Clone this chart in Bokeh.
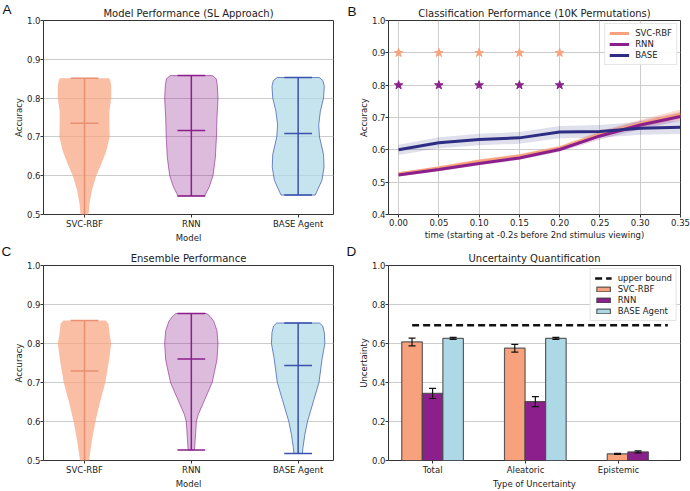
from bokeh.plotting import figure
from bokeh.layouts import gridplot
from bokeh.models import (Range1d, FixedTicker, Label, Legend, LegendItem, Whisker,
                          TeeHead, ColumnDataSource, NumeralTickFormatter)
from bokeh.embed import file_html
from bokeh.resources import INLINE

FONT = "DejaVu Sans"
TXT = "#222222"

# ---------------- data ----------------
models = ["SVC-RBF", "RNN", "BASE Agent"]
model_pos = [0, 1, 2]
acc_ticks = [0.5, 0.6, 0.7, 0.8, 0.9, 1.0]

# Panel A violins (y value, relative half width of density)
svc_a_y = [0.851, 0.845, 0.83, 0.80, 0.765, 0.735, 0.70, 0.664, 0.63, 0.60, 0.563, 0.529, 0.50, 0.47]
svc_a_w = [0.92, 0.97, 1.0, 1.0, 0.93, 0.93, 0.94, 0.82, 0.63, 0.44, 0.28, 0.19, 0.15, 0.10]
rnn_a_y = [0.858, 0.85, 0.835, 0.80, 0.748, 0.70, 0.647, 0.60, 0.571, 0.548]
rnn_a_w = [0.79, 0.93, 0.97, 1.0, 0.96, 0.94, 0.90, 0.81, 0.67, 0.50]
base_a_y = [0.853, 0.845, 0.83, 0.80, 0.765, 0.731, 0.70, 0.655, 0.622, 0.588, 0.55]
base_a_w = [0.79, 0.93, 0.98, 0.95, 0.83, 0.77, 0.80, 0.95, 0.97, 0.89, 0.64]
a_max = [0.851, 0.858, 0.853]
a_mean = [0.735, 0.7166, 0.709]
a_min = [0.47, 0.548, 0.55]

# Panel C violins
svc_c_y = [0.859, 0.85, 0.828, 0.80, 0.762, 0.70, 0.647, 0.60, 0.549, 0.50, 0.47]
svc_c_w = [0.80, 0.90, 0.93, 1.0, 0.93, 0.78, 0.57, 0.41, 0.27, 0.17, 0.12]
rnn_c_y = [0.877, 0.868, 0.857, 0.833, 0.80, 0.758, 0.70, 0.651, 0.618, 0.60, 0.56, 0.527]
rnn_c_w = [0.58, 0.72, 0.84, 0.96, 1.0, 0.96, 0.78, 0.47, 0.26, 0.19, 0.15, 0.12]
base_c_y = [0.8525, 0.845, 0.828, 0.80, 0.762, 0.70, 0.656, 0.60, 0.566, 0.533, 0.518]
base_c_w = [0.80, 0.92, 0.98, 1.0, 0.90, 0.78, 0.59, 0.35, 0.25, 0.18, 0.16]
c_max = [0.859, 0.877, 0.8525]
c_mean = [0.7295, 0.760, 0.7435]
c_min = [0.47, 0.527, 0.518]

# Panel B
times = [0.0, 0.05, 0.10, 0.15, 0.20, 0.25, 0.30, 0.35]
time_ticks = [0.0, 0.05, 0.10, 0.15, 0.20, 0.25, 0.30, 0.35]
b_ticks = [0.4, 0.5, 0.6, 0.7, 0.8, 0.9, 1.0]
svc_b = [0.526, 0.544, 0.565, 0.581, 0.606, 0.648, 0.681, 0.710]
svc_b_err = [0.004, 0.005, 0.006, 0.006, 0.007, 0.010, 0.012, 0.015]
rnn_b = [0.522, 0.539, 0.558, 0.575, 0.601, 0.643, 0.677, 0.703]
rnn_b_err = [0.004, 0.005, 0.006, 0.006, 0.007, 0.011, 0.013, 0.014]
base_b = [0.600, 0.622, 0.632, 0.637, 0.655, 0.657, 0.667, 0.670]
base_b_err = [0.016, 0.017, 0.018, 0.018, 0.019, 0.020, 0.020, 0.021]
star_times = [0.0, 0.05, 0.10, 0.15, 0.20]
svc_star = [0.9, 0.9, 0.9, 0.9, 0.9]
rnn_star = [0.8, 0.8, 0.8, 0.8, 0.8]

# Panel D
unc_types = ["Total", "Aleatoric", "Epistemic"]
unc_tick_pos = [0, 1, 2]
unc_group_pos = [0.0, 1.105, 2.21]
unc_ticks = [0.0, 0.2, 0.4, 0.6, 0.8, 1.0]
svc_d = [0.608, 0.576, 0.034]
svc_d_err = [0.020, 0.020, 0.003]
rnn_d = [0.344, 0.302, 0.044]
rnn_d_err = [0.026, 0.026, 0.005]
base_d = [0.626, 0.626, 0.0]
base_d_err = [0.005, 0.005, 0.0]
upper_bound = 0.693
upper_bound_x = [-0.22, 2.53]

# colours
C_SVC = "#F7A27D"
C_SVC_LINE = "#E88F72"
C_RNN = "#8B1F8B"
C_BASE_FILL = "#ADD8E6"
C_BASE_LINE = "#3A52AD"
C_BASE_B = "#2D2E83"

HALF = 0.25
CAP = 0.13


def make_fig(w, h, bl, br, bt, bb, xr, yr, title):
    p = figure(width=w, height=h, x_range=Range1d(*xr), y_range=Range1d(*yr),
               output_backend="svg", toolbar_location=None,
               min_border_left=bl, min_border_right=br, min_border_top=bt, min_border_bottom=bb)
    p.outline_line_color = "#333333"
    p.outline_line_width = 1
    p.outline_line_alpha = 1
    p.title.text = title
    p.title.text_font = FONT
    p.title.text_font_size = "10px"
    p.title.text_font_style = "normal"
    p.title.text_color = TXT
    p.title.align = "center"
    p.title.standoff = 3
    for ax in (p.xaxis[0], p.yaxis[0]):
        ax.major_label_text_font = FONT
        ax.major_label_text_font_size = "8.5px"
        ax.major_label_text_color = TXT
        ax.axis_label_text_font = FONT
        ax.axis_label_text_font_size = "8.5px"
        ax.axis_label_text_font_style = "normal"
        ax.axis_label_text_color = TXT
        ax.axis_line_color = None
        ax.major_tick_out = 3
        ax.major_tick_in = 0
        ax.minor_tick_out = 0
        ax.minor_tick_in = 0
        ax.major_tick_line_color = "#333333"
        ax.major_label_standoff = 1
        ax.axis_label_standoff = 1
    p.yaxis[0].major_label_standoff = 0
    p.yaxis[0].axis_label_standoff = 0
    p.ygrid.grid_line_color = "#cccccc"
    p.ygrid.grid_line_width = 1
    p.xgrid.grid_line_color = None
    return p


def letter(p, text, fh, dy):
    # panel letter placed in the left side panel (outside the frame, not clipped)
    p.add_layout(Label(x=1, y=fh + dy, x_units="screen", y_units="screen", text=text,
                       text_font="Liberation Sans", text_font_size="13.5px", text_color="#111111",
                       text_baseline="alphabetic", text_align="left"), "left")


def violin(p, pos, ys, ws, vmax, vmean, vmin, fill, falpha, line, lalpha, cap):
    xs = [pos + w * HALF for w in ws] + [pos - w * HALF for w in reversed(ws)]
    yy = list(ys) + list(reversed(ys))
    p.patch(xs, yy, fill_color=fill, fill_alpha=falpha, line_color=line, line_alpha=lalpha, line_width=1)
    p.segment(x0=[pos], y0=[vmin], x1=[pos], y1=[vmax], line_color=cap, line_width=1.5)
    p.segment(x0=[pos - CAP] * 3, y0=[vmin, vmean, vmax], x1=[pos + CAP] * 3, y1=[vmin, vmean, vmax],
              line_color=cap, line_width=1.5)


def violin_panel(p, vdata, vmax, vmean, vmin):
    styles = [(C_SVC, 0.7, C_SVC, 0.0, C_SVC_LINE),
              (C_RNN, 0.3, C_RNN, 0.6, C_RNN),
              (C_BASE_FILL, 0.7, C_BASE_LINE, 0.7, C_BASE_LINE)]
    for i, ((ys, ws), st) in enumerate(zip(vdata, styles)):
        violin(p, model_pos[i], ys, ws, vmax[i], vmean[i], vmin[i], *st)
    p.xaxis.ticker = FixedTicker(ticks=model_pos)
    p.xaxis.major_label_overrides = {pos: m for pos, m in zip(model_pos, models)}
    p.yaxis.ticker = FixedTicker(ticks=acc_ticks)
    p.yaxis.formatter = NumeralTickFormatter(format="0.0")
    p.xaxis.axis_label = "Model"
    p.yaxis.axis_label = "Accuracy"


# ---------------- Panel A ----------------
pa = make_fig(345, 245, 38, 12, 20, 27, (-0.384, 2.331), (0.5, 1.0), "Model Performance (SL Approach)")
violin_panel(pa, [(svc_a_y, svc_a_w), (rnn_a_y, rnn_a_w), (base_a_y, base_a_w)], a_max, a_mean, a_min)
letter(pa, "A", 198, 7)

# ---------------- Panel C ----------------
pc = make_fig(345, 246, 38, 12, 20, 23, (-0.384, 2.331), (0.5, 1.0), "Ensemble Performance")
violin_panel(pc, [(svc_c_y, svc_c_w), (rnn_c_y, rnn_c_w), (base_c_y, base_c_w)], c_max, c_mean, c_min)
letter(pc, "C", 203, 6)

# ---------------- Panel B ----------------
pb = make_fig(345, 245, 35, 10, 20, 29, (-0.0125, 0.35), (0.4, 1.0), "Classification Performance (10K Permutations)")
pb.xgrid.grid_line_color = "#cccccc"
pb.xaxis.ticker = FixedTicker(ticks=time_ticks)
pb.xaxis.formatter = NumeralTickFormatter(format="0.00")
pb.yaxis.ticker = FixedTicker(ticks=b_ticks)
pb.yaxis.formatter = NumeralTickFormatter(format="0.0")
pb.xaxis.axis_label = "time (starting at -0.2s before 2nd stimulus viewing)"
pb.yaxis.axis_label = "Accuracy"

items = []
for name, vals, errs, col, balpha in [("SVC-RBF", svc_b, svc_b_err, C_SVC, 0.35),
                                      ("RNN", rnn_b, rnn_b_err, C_RNN, 0.2),
                                      ("BASE", base_b, base_b_err, C_BASE_B, 0.15)]:
    lo = [v - e for v, e in zip(vals, errs)]
    hi = [v + e for v, e in zip(vals, errs)]
    pb.varea(x=times, y1=lo, y2=hi, fill_color=col, fill_alpha=balpha)
for name, vals, col in [("SVC-RBF", svc_b, C_SVC), ("RNN", rnn_b, C_RNN), ("BASE", base_b, C_BASE_B)]:
    r = pb.line(times, vals, line_color=col, line_width=3)
    items.append(LegendItem(label=name, renderers=[r]))
pb.scatter(star_times, svc_star, marker="star", size=9, fill_color=C_SVC, line_color=C_SVC)
pb.scatter(star_times, rnn_star, marker="star", size=9, fill_color=C_RNN, line_color=C_RNN)
leg_b = Legend(items=items, location="top_right")
pb.add_layout(leg_b)
letter(pb, "B", 196, 7)

# ---------------- Panel D ----------------
pd_ = make_fig(345, 246, 37, 10, 18, 23, (-0.474, 2.666), (0.0, 1.0), "Uncertainty Quantification")
pd_.xaxis.ticker = FixedTicker(ticks=unc_tick_pos)
pd_.xaxis.major_label_overrides = {pos: t for pos, t in zip(unc_tick_pos, unc_types)}
pd_.yaxis.ticker = FixedTicker(ticks=unc_ticks)
pd_.yaxis.formatter = NumeralTickFormatter(format="0.0")
pd_.xaxis.axis_label = "Type of Uncertainty"
pd_.yaxis.axis_label = "Uncertainty"

BW = 0.221
ub = pd_.line(upper_bound_x, [upper_bound, upper_bound], line_color="#111111", line_width=2.5, line_dash="7 4")
d_items = [LegendItem(label="upper bound", renderers=[ub])]
for k, (name, vals, errs, col) in enumerate([("SVC-RBF", svc_d, svc_d_err, C_SVC),
                                             ("RNN", rnn_d, rnn_d_err, C_RNN),
                                             ("BASE Agent", base_d, base_d_err, C_BASE_FILL)]):
    xs = [g + (k - 1) * BW for g in unc_group_pos]
    r = pd_.vbar(x=xs, top=vals, width=BW, fill_color=col, line_color="#444444", line_width=1.2, line_alpha=0.85)
    d_items.append(LegendItem(label=name, renderers=[r]))
    keep = [i for i, v in enumerate(vals) if v > 0]
    src = ColumnDataSource(dict(x=[xs[i] for i in keep],
                                lower=[vals[i] - errs[i] for i in keep],
                                upper=[vals[i] + errs[i] for i in keep]))
    w = Whisker(source=src, base="x", upper="upper", lower="lower", dimension="height",
                line_color="#111111", line_width=1.2,
                upper_head=TeeHead(size=7, line_color="#111111", line_width=1.2),
                lower_head=TeeHead(size=7, line_color="#111111", line_width=1.2))
    w.level = "annotation"
    pd_.add_layout(w)
leg_d = Legend(items=d_items, location="top_right")
pd_.add_layout(leg_d)
letter(pd_, "D", 205, 4)

for lg, gh in ((leg_b, 10), (leg_d, 6)):
    lg.label_text_font = FONT
    lg.label_text_font_size = "8.5px"
    lg.label_text_color = TXT
    lg.glyph_width = 20 if lg is leg_b else 17
    lg.glyph_height = gh
    lg.label_height = 10
    lg.label_standoff = 6
    lg.spacing = 1
    lg.padding = 4
    lg.margin = 3
    lg.border_line_color = "#cccccc"
    lg.background_fill_alpha = 0.85

grid = gridplot([[pa, pb], [pc, pd_]], toolbar_location=None)
open("out.html", "w").write(file_html(grid, INLINE))
